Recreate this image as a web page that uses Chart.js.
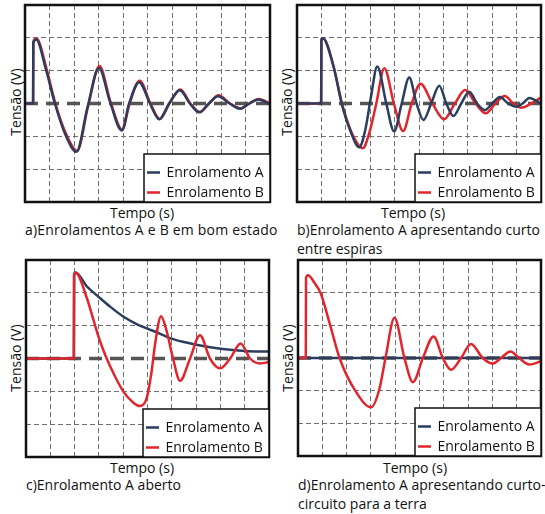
<!DOCTYPE html>
<html lang="pt">
<head>
<meta charset="utf-8">
<script src="https://cdn.jsdelivr.net/npm/chart.js@4.4.1/dist/chart.umd.min.js"></script>
<style>
  html, body { margin: 0; padding: 0; background: #fff; }
  body { position: relative; width: 545px; height: 514px; overflow: hidden;
         font-family: "Open Sans", sans-serif; color: #111; }
  canvas { position: absolute; }
  .t  { position: absolute; font-size: 14px; line-height: 19px; white-space: nowrap; }
  .xt { transform: translateX(-50%); }
  .yt { transform: translate(-50%, -50%) rotate(-90deg); }
</style>
</head>
<body>
<div class="t yt" style="left:15px;top:102px">Tensão (V)</div>
<div class="t yt" style="left:286px;top:102px">Tensão (V)</div>
<div class="t yt" style="left:15px;top:358px">Tensão (V)</div>
<div class="t yt" style="left:287px;top:358px">Tensão (V)</div>

<div class="t xt" style="left:142px;top:203px">Tempo (s)</div>
<div class="t xt" style="left:413px;top:203px">Tempo (s)</div>
<div class="t xt" style="left:142px;top:458px">Tempo (s)</div>
<div class="t xt" style="left:415px;top:458px">Tempo (s)</div>

<div class="t" style="left:25px;top:220px;letter-spacing:0.2px">a)Enrolamentos A e B em bom estado</div>
<div class="t" style="left:297px;top:220px">b)Enrolamento A apresentando curto<br>entre espiras</div>
<div class="t" style="left:26px;top:475px">c)Enrolamento A aberto</div>
<div class="t" style="left:298px;top:475px">d)Enrolamento A apresentando curto-<br>circuito para a terra</div>

<script>
// Series names shown in each legend
const seriesNames = ['Enrolamento A', 'Enrolamento B'];

// Reference level (0 V) drawn across each plot
const refTempo  = [0, 10];
const refTensao = [0, 0];

// a) Enrolamentos A e B em bom estado
const tempoA_a  = [0, 0.33, 0.34, 0.46, 0.85, 1.22, 1.65, 2.1, 2.55, 3.02, 3.47, 3.95, 4.25, 4.66, 5.1, 5.48, 5.88, 6.32, 6.73, 7.12, 7.5, 7.88, 8.35, 8.78, 9.15, 9.52, 10];
const tensaoA_a = [0, 0, 1.85, 1.95, 1.05, 0, -0.95, -1.47, -0.12, 1.08, 0.05, -0.82, 0, 0.65, 0, -0.48, 0, 0.4, 0, -0.27, 0, 0.22, 0, -0.16, 0, 0.12, -0.02];
const tempoB_a  = [0, 0.33, 0.34, 0.47, 0.87, 1.24, 1.68, 2.13, 2.57, 3.04, 3.49, 3.97, 4.27, 4.68, 5.12, 5.5, 5.9, 6.34, 6.75, 7.14, 7.52, 7.9, 8.37, 8.8, 9.17, 9.54, 10];
const tensaoB_a = [0, 0, 1.88, 1.98, 1.08, 0, -0.93, -1.44, -0.1, 1.14, 0.05, -0.8, 0, 0.69, 0, -0.47, 0, 0.43, 0, -0.26, 0, 0.25, 0, -0.15, 0, 0.14, 0];

// b) Enrolamento A apresentando curto entre espiras
const tempoA_b  = [0, 0.99, 1.0, 1.06, 1.49, 1.83, 2.17, 2.55, 2.8, 3.02, 3.29, 3.66, 3.98, 4.29, 4.6, 4.9, 5.18, 5.5, 5.83, 6.12, 6.41, 6.73, 7.06, 7.38, 7.7, 8.0, 8.32, 8.65, 9.0, 9.28, 9.52, 10];
const tensaoA_b = [0, 0, 1.95, 1.99, 1.15, 0, -0.8, -1.33, -0.8, 0.15, 1.13, 0, -0.85, 0, 0.79, 0, -0.5, 0, 0.54, 0, -0.38, 0, 0.36, 0, -0.2, 0, 0.2, 0, -0.1, 0.02, 0.17, 0];
const tempoB_b  = [0, 0.99, 1.0, 1.06, 1.5, 1.85, 2.22, 2.7, 2.98, 3.25, 3.58, 3.97, 4.35, 4.7, 5.06, 5.55, 6.03, 6.47, 6.89, 7.32, 7.74, 8.13, 8.52, 8.86, 9.2, 9.6, 10];
const tensaoB_b = [0, 0, 1.95, 1.99, 1.12, -0.02, -0.85, -1.36, -0.85, 0, 1.07, 0, -0.84, 0, 0.6, 0, -0.48, 0, 0.41, 0, -0.3, 0, 0.23, 0, -0.13, 0, 0.18];

// c) Enrolamento A aberto
const tempoA_c  = [0, 1.97, 1.98, 2.04, 2.5, 3.0, 3.46, 4.0, 4.55, 5.0, 5.5, 5.93, 6.5, 7.0, 8.0, 9.0, 10];
const tensaoA_c = [0, 0, 2.55, 2.62, 2.2, 1.87, 1.58, 1.28, 1.05, 0.91, 0.76, 0.62, 0.5, 0.42, 0.3, 0.23, 0.21];
const tempoB_c  = [0, 1.97, 1.98, 2.04, 2.5, 2.77, 3.0, 3.32, 3.66, 4.0, 4.35, 4.69, 4.97, 5.17, 5.31, 5.56, 5.79, 6.05, 6.34, 6.75, 7.16, 7.57, 7.98, 8.4, 8.83, 9.22, 9.63, 10];
const tensaoB_c = [0, 0, 2.55, 2.61, 1.85, 1.19, 0.63, 0, -0.54, -1.0, -1.3, -1.45, -1.2, -0.39, 0.43, 1.29, 0.83, 0, -0.68, 0, 0.71, 0, -0.3, 0, 0.46, 0, -0.15, -0.11];

// d) Enrolamento A apresentando curto-circuito para a terra
const tempoA_d  = [0, 10];
const tensaoA_d = [0, 0];
const tempoB_d  = [0, 0.32, 0.33, 0.41, 0.68, 0.93, 1.3, 1.71, 2.33, 3.01, 3.35, 3.6, 3.97, 4.38, 4.73, 5.14, 5.58, 5.96, 6.3, 6.71, 7.12, 7.6, 8.01, 8.36, 8.74, 9.1, 9.52, 10];
const tensaoB_d = [0, 0, 2.45, 2.53, 2.3, 1.99, 1.07, 0, -0.97, -1.51, -0.95, 0, 1.23, 0, -0.74, 0, 0.66, 0, -0.36, 0, 0.43, 0, -0.17, 0, 0.2, 0, -0.2, -0.1];

const COLOR_A = '#2b3d5e';
const COLOR_B = '#e0262c';
const GRID    = '#707070';
const INK     = '#111';

const toPoints = (xs, ys) => xs.map((x, i) => ({ x, y: ys[i] }));

// Black frame around the plot area plus a boxed legend in its lower-right corner
const frameLegend = {
  id: 'frameLegend',
  afterDraw(chart) {
    const { ctx, chartArea: a } = chart;
    ctx.save();
    ctx.strokeStyle = INK;
    ctx.lineWidth = 2.5;
    ctx.strokeRect(a.left, a.top, a.right - a.left, a.bottom - a.top);

    const w = 126, h = 48;
    const x0 = a.right - w, y0 = a.bottom - h;
    ctx.fillStyle = '#fff';
    ctx.fillRect(x0, y0, w, h);
    ctx.lineWidth = 1.5;
    ctx.strokeRect(x0, y0, w, h);

    const items = chart.data.datasets.filter(d => d.inLegend)
      .sort((p, q) => seriesNames.indexOf(p.label) - seriesNames.indexOf(q.label));
    ctx.font = '14px "Open Sans", sans-serif';
    ctx.textBaseline = 'alphabetic';
    items.forEach((d, i) => {
      const yLine = y0 + 18.5 + i * 20;
      ctx.strokeStyle = d.borderColor;
      ctx.lineWidth = 2.5;
      ctx.beginPath();
      ctx.moveTo(x0 + 3, yLine);
      ctx.lineTo(x0 + 16, yLine);
      ctx.stroke();
      ctx.fillStyle = INK;
      ctx.fillText(d.label, x0 + 22.5, y0 + 22.5 + i * 20);
    });
    ctx.restore();
  }
};

function curve(label, color, xs, ys, order) {
  return {
    label, inLegend: true, order,
    data: toPoints(xs, ys),
    borderColor: color, borderWidth: 2.5,
    cubicInterpolationMode: 'monotone',
    borderJoinStyle: 'round', borderCapStyle: 'round',
    pointRadius: 0, fill: false
  };
}

// topSeries: 'A' or 'B' — which winding trace sits above the other
function makePanel(box, xsA, ysA, xsB, ysB, topSeries) {
  const pad = 4;
  const cv = document.createElement('canvas');
  cv.width = box.w + 2 * pad;
  cv.height = box.h + 2 * pad;
  cv.style.left = (box.left - pad) + 'px';
  cv.style.top = (box.top - pad) + 'px';
  document.body.appendChild(cv);

  const orderA = topSeries === 'A' ? 0 : 1;
  const orderB = topSeries === 'A' ? 1 : 0;

  return new Chart(cv, {
    type: 'line',
    data: {
      datasets: [
        {
          label: 'ref', inLegend: false, order: 2,
          data: toPoints(refTempo, refTensao),
          borderColor: '#555', borderWidth: 3.5, borderDash: [13, 8],
          pointRadius: 0, fill: false
        },
        curve(seriesNames[0], COLOR_A, xsA, ysA, orderA),
        curve(seriesNames[1], COLOR_B, xsB, ysB, orderB)
      ]
    },
    options: {
      responsive: false, animation: false, devicePixelRatio: 1, events: [],
      layout: { padding: pad },
      plugins: { legend: { display: false }, tooltip: { enabled: false } },
      scales: {
        x: {
          type: 'linear', min: 0, max: 10,
          ticks: { display: false, stepSize: 1 },
          grid: { color: GRID, lineWidth: 1, drawTicks: false },
          border: { display: false, dash: [5, 3] },
          afterFit(s) { s.height = 0; }
        },
        y: {
          type: 'linear', min: -3, max: 3,
          ticks: { display: false, stepSize: 1 },
          grid: {
            color: c => (c.tick && c.tick.value === 0) ? 'rgba(0,0,0,0)' : GRID,
            lineWidth: 1, drawTicks: false
          },
          border: { display: false, dash: [5, 3] },
          afterFit(s) { s.width = 0; }
        }
      }
    },
    plugins: [frameLegend]
  });
}

makePanel({ left: 25,  top: 5,   w: 245, h: 197 }, tempoA_a, tensaoA_a, tempoB_a, tensaoB_a, 'A');
makePanel({ left: 297, top: 5,   w: 244, h: 197 }, tempoA_b, tensaoA_b, tempoB_b, tensaoB_b, 'A');
makePanel({ left: 26,  top: 260, w: 243, h: 197 }, tempoA_c, tensaoA_c, tempoB_c, tensaoB_c, 'B');
makePanel({ left: 298, top: 260, w: 243, h: 196 }, tempoA_d, tensaoA_d, tempoB_d, tensaoB_d, 'B');
</script>
</body>
</html>
